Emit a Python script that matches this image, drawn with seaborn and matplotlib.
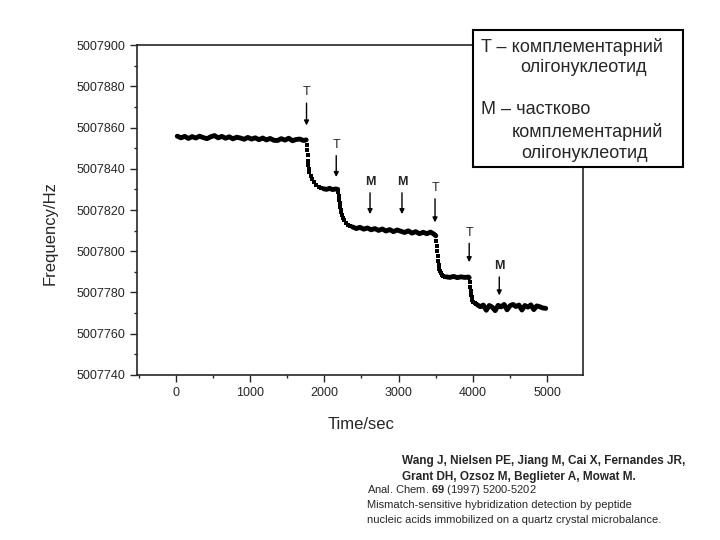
import numpy as np
import pandas as pd
import matplotlib
matplotlib.use('Agg')
import matplotlib.pyplot as plt
import seaborn as sns
from matplotlib.patches import Rectangle
from matplotlib.ticker import MultipleLocator

# Базова частота, відхилення рахуються від неї (Гц)
F0 = 5007800

# Плато (щільні ділянки, малюються товстою лінією)
p1_t = [20, 70, 120, 170, 220, 270, 320, 370, 420, 470, 520, 570, 620, 670, 720, 770, 820, 870,
        920, 970, 1020, 1070, 1120, 1170, 1220, 1270, 1320, 1370, 1420, 1470, 1520, 1570, 1620,
        1670, 1720, 1755]
p1_df = [55.8, 55.0, 55.7, 54.7, 55.6, 54.9, 55.8, 55.1, 54.6, 55.5, 56.1, 55.0, 55.7, 54.8, 55.5,
         54.5, 55.3, 54.9, 54.3, 55.2, 54.4, 55.0, 54.1, 54.9, 54.0, 54.7, 53.8, 53.7, 54.6, 53.9,
         54.8, 53.6, 54.2, 54.4, 53.7, 54.0]
p2_t = [1990, 2030, 2070, 2110, 2150, 2180]
p2_df = [30.3, 30.0, 30.5, 29.9, 30.2, 30.0]
p3_t = [2380, 2430, 2480, 2530, 2580, 2630, 2680, 2730, 2780, 2830, 2880, 2930, 2980, 3030, 3080,
        3130, 3180, 3230, 3280, 3330, 3380, 3430, 3480, 3500]
p3_df = [11.8, 11.0, 11.6, 10.7, 11.3, 10.4, 11.0, 10.1, 10.8, 9.8, 10.5, 9.5, 10.3, 9.7, 9.1,
         9.9, 8.8, 9.5, 8.5, 9.2, 8.5, 9.3, 8.2, 7.5]
p4_t = [3640, 3690, 3740, 3790, 3840, 3890, 3940, 3950]
p4_df = [-12.4, -12.7, -12.2, -12.8, -12.4, -12.7, -12.5, -12.8]
p5_t = [4060, 4100, 4140, 4180, 4220, 4260, 4300, 4340, 4380, 4420, 4460, 4500, 4540, 4580, 4620,
        4660, 4700, 4740, 4780, 4820, 4860, 4900, 4940, 4980]
p5_df = [-26.0, -26.9, -26.1, -28.6, -26.3, -27.1, -28.8, -26.2, -27.0, -25.8, -28.4, -26.4, -25.8,
         -26.8, -26.1, -28.5, -26.3, -27.1, -26.0, -28.3, -26.5, -26.9, -27.5, -27.7]

# Переходи (окремі точки)
d1_t = [1762, 1768, 1774, 1780, 1786, 1792, 1800, 1815, 1835, 1860, 1890, 1925, 1960]
d1_df = [51.5, 49.0, 46.5, 44.0, 41.8, 40.0, 38.3, 36.5, 35.0, 33.5, 32.3, 31.3, 30.6]
d2_t = [2185, 2192, 2199, 2206, 2213, 2220, 2230, 2242, 2255, 2270, 2290, 2315, 2345]
d2_df = [28.5, 26.8, 25.0, 23.3, 21.7, 20.2, 18.8, 17.4, 16.2, 15.0, 13.8, 12.8, 12.2]
d3_t = [3508, 3514, 3520, 3526, 3532, 3538, 3546, 3556, 3568, 3582, 3600, 3620]
d3_df = [5.0, 2.5, 0.0, -2.5, -4.8, -6.8, -8.4, -9.6, -10.6, -11.3, -11.9, -12.3]
d4_t = [3958, 3964, 3970, 3976, 3984, 3994, 4008, 4025, 4045]
d4_df = [-15.0, -17.3, -19.4, -21.0, -22.4, -23.5, -24.4, -25.0, -25.5]

# Стрілки з позначками
arrow_labels = ['T', 'T', 'M', 'M', 'T', 'T', 'M']
arrow_t = [1760, 2160, 2615, 3045, 3490, 3950, 4355]
arrow_text_f = [5007877, 5007851.5, 5007833.5, 5007833.5, 5007830.6, 5007809, 5007792.7]
arrow_tip_f = [5007861, 5007836, 5007818, 5007818, 5007814, 5007794.7, 5007778.6]

x_ticks = [0, 1000, 2000, 3000, 4000, 5000]
y_ticks = [5007740, 5007760, 5007780, 5007800, 5007820, 5007840, 5007860, 5007880, 5007900]

legend_lines = ['T – комплементарний', 'олігонуклеотид', 'M – частково',
                'комплементарний', 'олігонуклеотид']
citation_bold = ['Wang J, Nielsen PE, Jiang M, Cai X, Fernandes JR,',
                 'Grant DH, Ozsoz M, Beglieter A, Mowat M.']
citation_plain = ['Anal. Chem. $\\mathbf{69}$ (1997) 5200-5202',
                  'Mismatch-sensitive hybridization detection by peptide',
                  'nucleic acids immobilized on a quartz crystal microbalance.']

# Таблиці для seaborn
plato = pd.concat([
    pd.DataFrame({'t': t, 'f': np.array(df) + F0, 'seg': i})
    for i, (t, df) in enumerate([(p1_t, p1_df), (p2_t, p2_df), (p3_t, p3_df), (p4_t, p4_df), (p5_t, p5_df)])
])
perehid = pd.DataFrame({
    't': d1_t + d2_t + d3_t + d4_t,
    'f': np.array(d1_df + d2_df + d3_df + d4_df) + F0,
})

sns.set_style('ticks')
plt.rcParams['font.family'] = ['Liberation Sans', 'DejaVu Sans']
plt.rcParams['mathtext.fontset'] = 'custom'
plt.rcParams['mathtext.rm'] = 'Liberation Sans'
plt.rcParams['mathtext.bf'] = 'Liberation Sans:bold'

fig = plt.figure(figsize=(7.2, 5.4), dpi=100)
ax = fig.add_axes([0.190, 0.3056, 0.620, 0.611])

sns.lineplot(data=plato, x='t', y='f', units='seg', estimator=None, color='black',
             linewidth=3.5, ax=ax, legend=False)
sns.scatterplot(data=perehid, x='t', y='f', marker='s', s=8, color='black', linewidth=0,
                ax=ax, legend=False)

for lab, t, ft, fa in zip(arrow_labels, arrow_t, arrow_text_f, arrow_tip_f):
    ax.annotate(lab, xy=(t, fa), xytext=(t, ft), ha='center', va='center', fontsize=9,
                fontweight='bold' if lab == 'M' else 'normal',
                arrowprops=dict(arrowstyle='-|>', color='black', lw=1.0, mutation_scale=7,
                                shrinkA=1, shrinkB=0))

ax.set_xlim(-525, 5485)
ax.set_ylim(5007740, 5007900)
ax.set_xticks(x_ticks)
ax.set_yticks(y_ticks)
ax.xaxis.set_minor_locator(MultipleLocator(500))
ax.yaxis.set_minor_locator(MultipleLocator(10))
ax.ticklabel_format(useOffset=False, style='plain')
ax.tick_params(which='major', length=5, width=1, labelsize=9, direction='out')
ax.tick_params(which='minor', length=2.5, width=1, direction='out')
for sp in ax.spines.values():
    sp.set_linewidth(1.2)
    sp.set_visible(True)

ax.set_xlabel('Time/sec', fontsize=12)
ax.set_ylabel('Frequency/Hz', fontsize=12)
ax.xaxis.set_label_coords(0.503, -0.127)
ax.yaxis.set_label_coords(-0.177, 0.429)

# Рамка з поясненнями
fig.add_artist(Rectangle((473 / 720, 1 - 167 / 540), 210 / 720, 137 / 540,
                         transform=fig.transFigure, facecolor='white', edgecolor='black',
                         linewidth=1.5, zorder=10))
leg_x = [481, 520, 481, 512, 521]
leg_y = [47, 67, 110, 132, 153]
for txt, lx, ly in zip(legend_lines, leg_x, leg_y):
    fig.text(lx / 720, 1 - ly / 540, txt, fontsize=13, va='center', ha='left', zorder=11)

# Посилання
for txt, ly in zip(citation_bold, [461, 477]):
    fig.text(402 / 720, 1 - ly / 540, txt, fontsize=8.5, fontweight='bold', va='center')
for txt, ly in zip(citation_plain, [490, 505, 520]):
    fig.text(367 / 720, 1 - ly / 540, txt, fontsize=8, va='center')

fig.savefig('out.png', dpi=100)
